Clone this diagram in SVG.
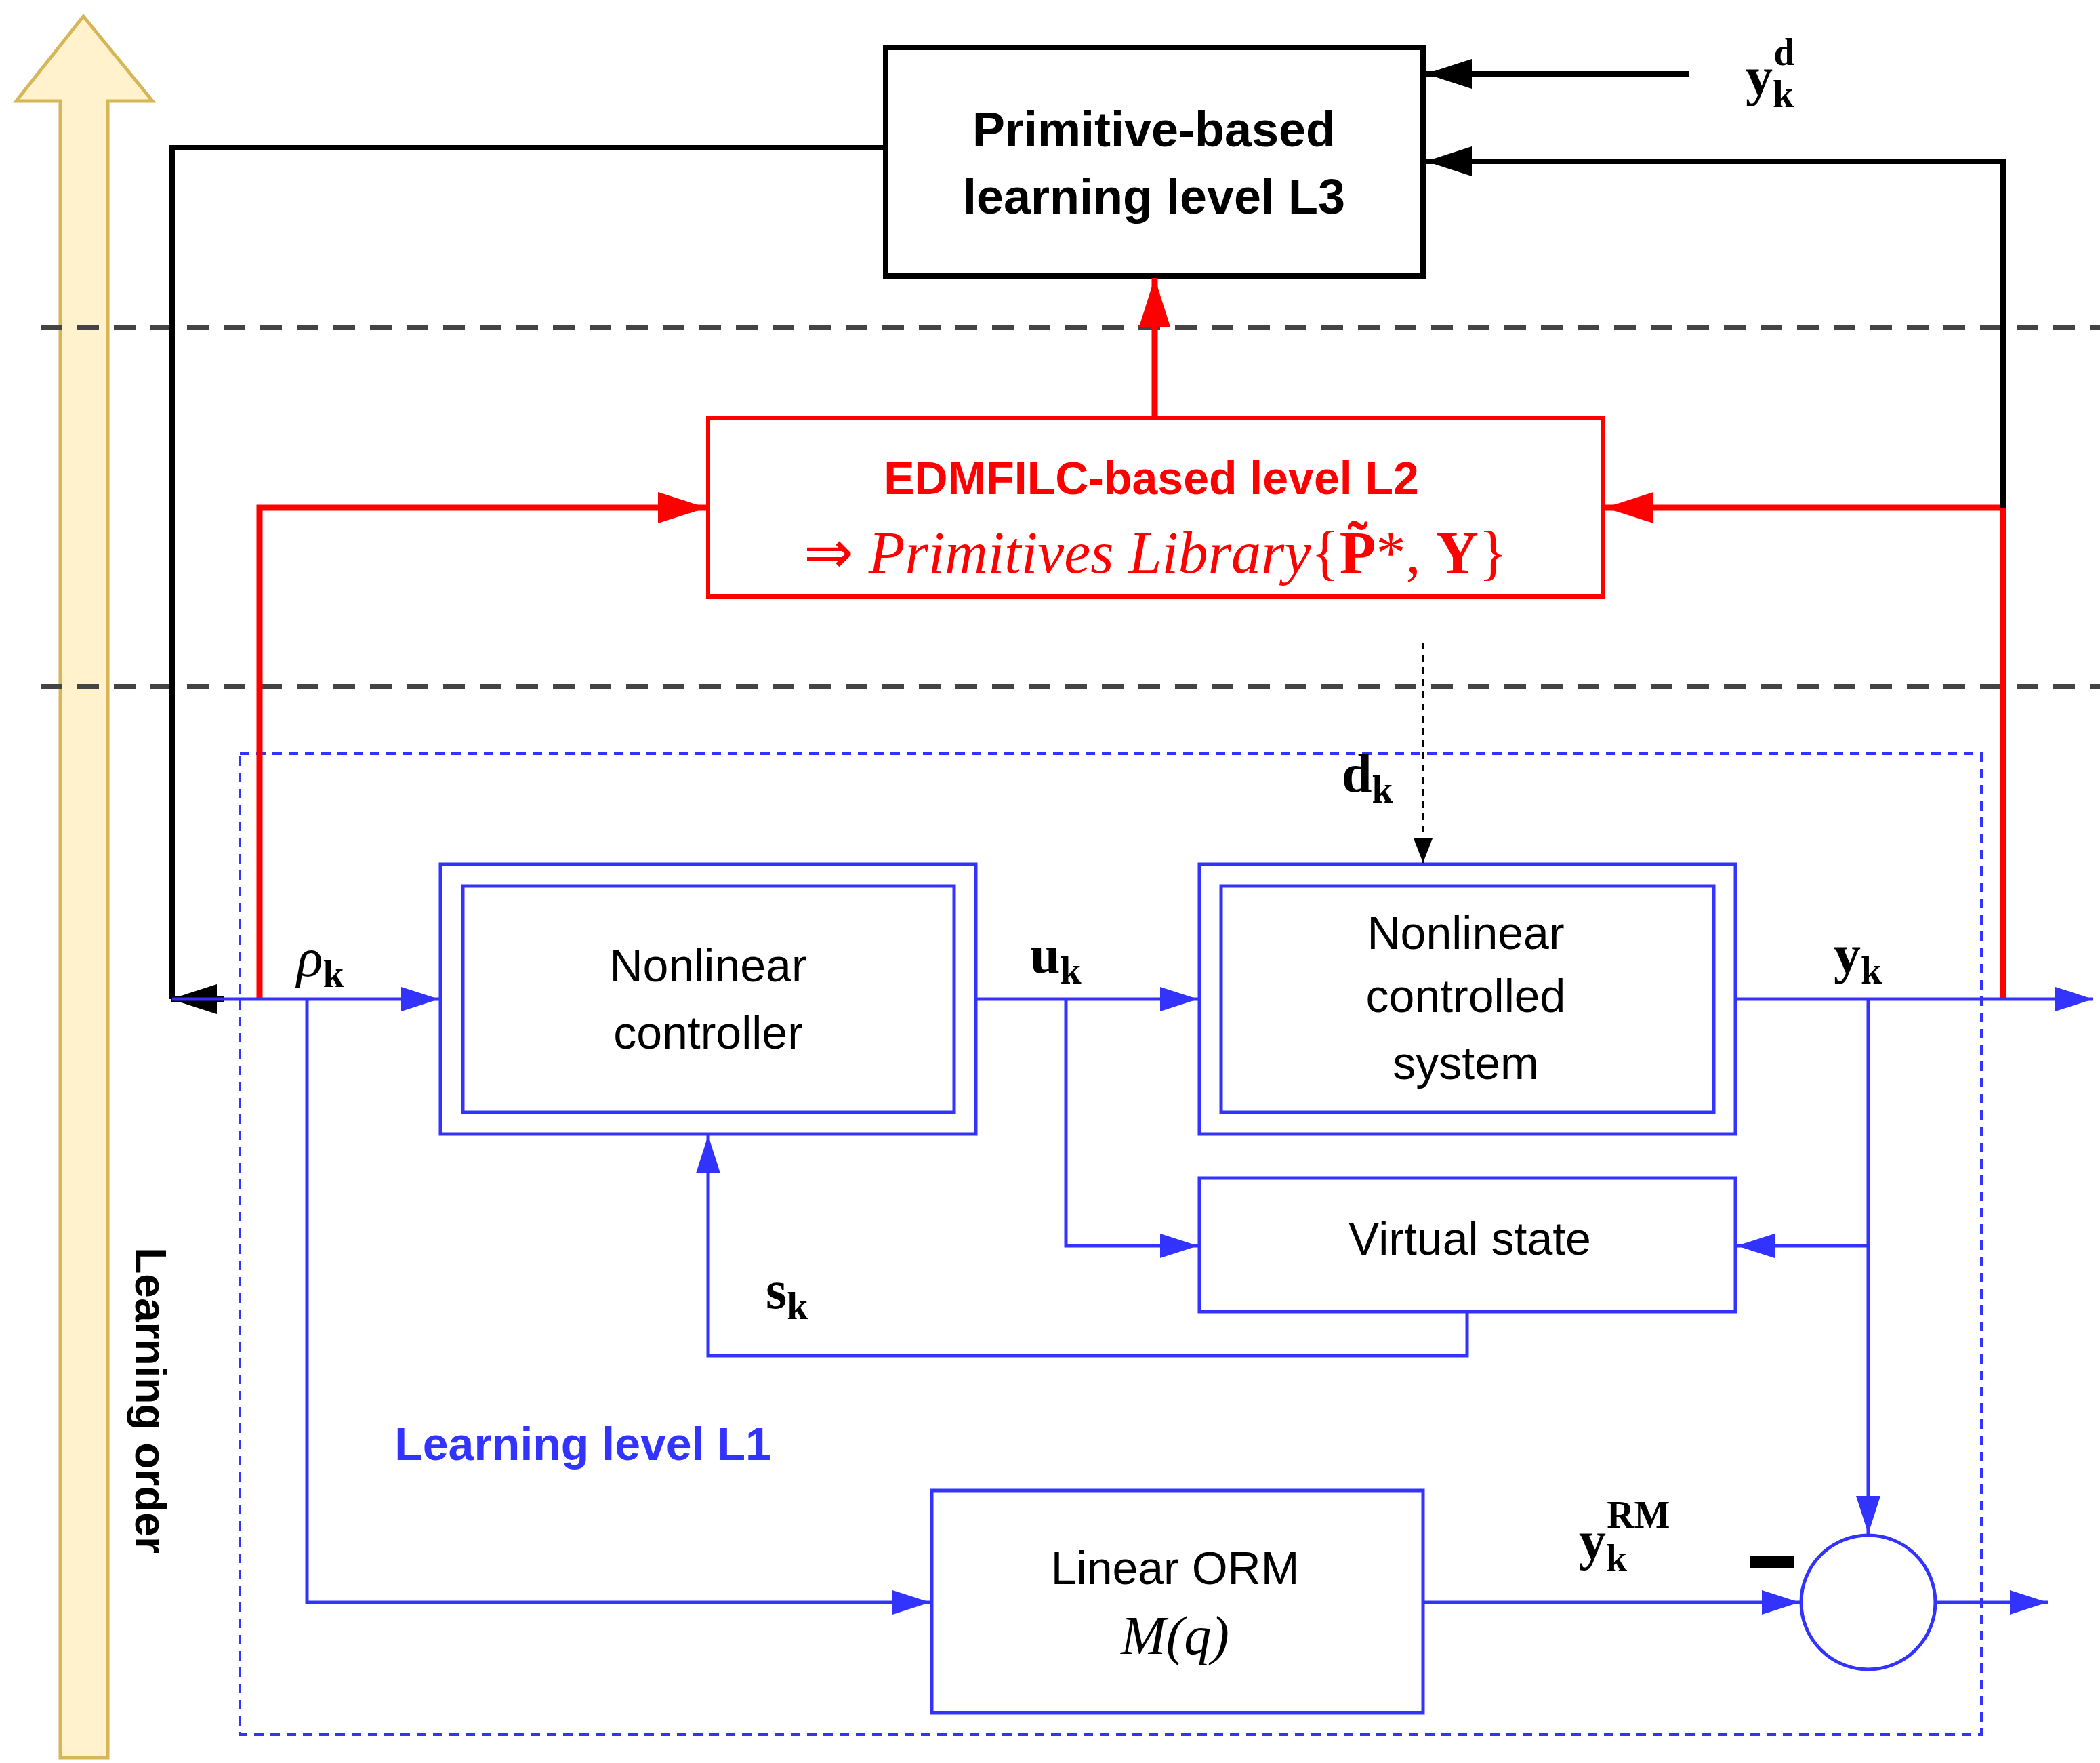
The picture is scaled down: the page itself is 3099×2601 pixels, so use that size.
<svg xmlns="http://www.w3.org/2000/svg" width="3099" height="2601" viewBox="0 0 3099 2601">
<style>
.b{fill:none;stroke:#3333ff;stroke-width:5}
.r{fill:none;stroke:#ff0000;stroke-width:9}
.k{fill:none;stroke:#000;stroke-width:8}
.t{font-family:"Liberation Sans",Arial,sans-serif;font-size:68px;text-anchor:middle}
.m{font-family:"Liberation Serif","DejaVu Serif",serif;font-weight:bold;font-size:80px}
.s{font-size:56px}
</style>
<defs>
<marker id="ab" markerUnits="userSpaceOnUse" markerWidth="60" markerHeight="40" refX="56" refY="18" orient="auto"><path d="M0,0 L56,18 L0,36 Z" fill="#3333ff"/></marker>
<marker id="ar" markerUnits="userSpaceOnUse" markerWidth="80" markerHeight="50" refX="72" refY="23" orient="auto"><path d="M0,0 L72,23 L0,46 Z" fill="#ff0000"/></marker>
<marker id="ak" markerUnits="userSpaceOnUse" markerWidth="80" markerHeight="50" refX="68" refY="22" orient="auto"><path d="M0,0 L68,22 L0,44 Z" fill="#000"/></marker>
<marker id="ak2" markerUnits="userSpaceOnUse" markerWidth="40" markerHeight="40" refX="36" refY="14" orient="auto"><path d="M0,0 L36,14 L0,28 Z" fill="#000"/></marker>
</defs>
<rect width="3099" height="2601" fill="#fff"/>
<g id="learning-order">
<path d="M89,2593 V149 H24 L123,24 L225,149 H159 V2593 Z" fill="#fff2cc" stroke="#d6b656" stroke-width="5"/>
<text transform="translate(200,2066) rotate(90)" class="t" style="font-weight:bold;font-size:64px">Learning order</text>
</g>
<g id="dashes" stroke="#444" stroke-width="8" stroke-dasharray="32,22">
<line x1="60" y1="483" x2="3099" y2="483"/>
<line x1="60" y1="1013" x2="3099" y2="1013"/>
</g>
<g id="l1-frame"><rect x="354" y="1112" width="2570" height="1447" fill="none" stroke="#3333ff" stroke-width="4" stroke-dasharray="14,10"/>
<text x="860" y="2154" class="t" style="font-weight:bold;fill:#3333ff">Learning level L1</text></g>
<g id="l3"><rect x="1307" y="70" width="793" height="337" fill="#fff" stroke="#000" stroke-width="8"/>
<text x="1703" y="216" class="t" style="font-weight:bold;font-size:72px">Primitive-based</text>
<text x="1703" y="315" class="t" style="font-weight:bold;font-size:72px">learning level L3</text></g>
<g id="l2"><rect x="1045" y="616" width="1321" height="264" fill="#fff" stroke="#ff0000" stroke-width="6"/>
<text x="1699" y="729" class="t" style="font-weight:bold;fill:#ff0000">EDMFILC-based level L2</text>
<text x="1705" y="845" font-family="'Liberation Serif',serif" font-size="88" fill="#ff0000" text-anchor="middle">⇒ <tspan font-style="italic">Primitives Library</tspan>{<tspan font-weight="bold">P̃</tspan>*, <tspan font-weight="bold">Y</tspan>}</text></g>
<g id="controller"><rect x="650" y="1275" width="790" height="398" class="b"/><rect x="683" y="1307" width="725" height="334" class="b"/>
<text x="1045" y="1448" class="t">Nonlinear</text><text x="1045" y="1547" class="t">controller</text></g>
<g id="system"><rect x="1770" y="1275" width="791" height="398" class="b"/><rect x="1802" y="1307" width="727" height="334" class="b"/>
<text x="2163" y="1400" class="t">Nonlinear</text><text x="2163" y="1493" class="t">controlled</text><text x="2163" y="1592" class="t">system</text></g>
<g id="virtual"><rect x="1770" y="1738" width="791" height="197" class="b"/><text x="2169" y="1851" class="t">Virtual state</text></g>
<g id="orm"><rect x="1375" y="2199" width="725" height="328" class="b"/><text x="1734" y="2337" class="t">Linear ORM</text>
<text x="1734" y="2440" font-family="'Liberation Serif',serif" font-style="italic" font-size="80" text-anchor="middle">M(q)</text></g>
<g id="sum"><circle cx="2757" cy="2364" r="99" class="b"/><rect x="2583" y="2296" width="65" height="18" fill="#000"/></g>
<g id="connectors">
<path class="r" d="M1704,616 V410" marker-end="url(#ar)"/>
<path class="r" d="M383,1474 V749 H1043" marker-end="url(#ar)"/>
<path class="r" d="M2956,1474 V749 H2368" marker-end="url(#ar)"/>
<path class="k" d="M2956,749 V238 H2104" marker-end="url(#ak)"/>
<path class="k" d="M2493,109 H2104" marker-end="url(#ak)"/>
<path class="k" d="M1307,218 H254 V1474"/>
<path class="k" d="M330,1474 H252" marker-end="url(#ak)"/>
<path d="M2100,948 V1273" stroke="#000" stroke-width="4" stroke-dasharray="10,8" fill="none" marker-end="url(#ak2)"/>
<path class="b" d="M254,1474 H648" marker-end="url(#ab)"/>
<path class="b" d="M453,1474 V2364 H1373" marker-end="url(#ab)"/>
<path class="b" d="M1440,1474 H1768" marker-end="url(#ab)"/>
<path class="b" d="M1573,1474 V1838 H1768" marker-end="url(#ab)"/>
<path class="b" d="M2561,1474 H3089" marker-end="url(#ab)"/>
<path class="b" d="M2757,1474 V2263" marker-end="url(#ab)"/>
<path class="b" d="M2757,1838 H2563" marker-end="url(#ab)"/>
<path class="b" d="M2165,1935 V2000 H1045 V1675" marker-end="url(#ab)"/>
<path class="b" d="M2100,2364 H2656" marker-end="url(#ab)"/>
<path class="b" d="M2856,2364 H3022" marker-end="url(#ab)"/>
</g>
<g id="labels" class="m">
<text x="2576" y="140">y<tspan class="s" dy="18">k</tspan><tspan class="s" dx="-30" dy="-62">d</tspan></text>
<text x="438" y="1440" font-style="italic" font-weight="normal">ρ<tspan class="s" font-weight="bold" font-style="normal" dy="16">k</tspan></text>
<text x="1520" y="1435">u<tspan class="s" dy="16">k</tspan></text>
<text x="2706" y="1435">y<tspan class="s" dy="16">k</tspan></text>
<text x="1980" y="1168">d<tspan class="s" dy="16">k</tspan></text>
<text x="1130" y="1930">s<tspan class="s" dy="16">k</tspan></text>
<text x="2330" y="2300">y<tspan class="s" dy="18">k</tspan><tspan class="s" dx="-30" dy="-64">RM</tspan></text>
</g>
</svg>
